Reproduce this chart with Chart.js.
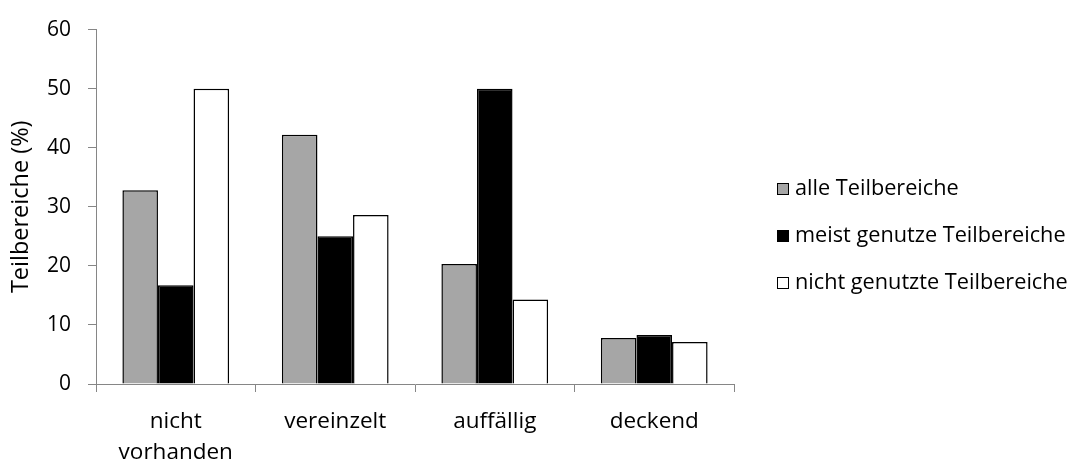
<!DOCTYPE html>
<html lang="de">
<head>
<meta charset="utf-8">
<title>Teilbereiche</title>
<script src="https://cdn.jsdelivr.net/npm/chart.js@4/dist/chart.umd.min.js"></script>
<style>
  html, body { margin: 0; padding: 0; background: #ffffff; }
  #wrap { width: 1075px; height: 463px; }
</style>
</head>
<body>
<div id="wrap"><canvas id="chart" width="1075" height="463"></canvas></div>
<script>
// Kategorien (Ausprägung) und Anteile der Teilbereiche in Prozent
const categories = [["nicht", "vorhanden"], "vereinzelt", "auffällig", "deckend"];
const seriesNames = ["alle Teilbereiche", "meist genutze Teilbereiche", "nicht genutzte Teilbereiche"];
const alleTeilbereiche = [32.8, 42.2, 20.3, 7.8];
const meistGenutzte = [16.7, 25.0, 50.0, 8.3];
const nichtGenutzte = [50.0, 28.6, 14.3, 7.1];
const yTicks = [0, 10, 20, 30, 40, 50, 60];
const yTitle = "Teilbereiche (%)";

const FONT = "'Open Sans'";
const AXIS_GREY = "#868686";

// Legende rechts neben dem Diagramm
const sideLegend = {
  id: "sideLegend",
  afterDraw(chart) {
    const ctx = chart.ctx;
    const boxX = 777, box = 12, textX = 795, firstY = 189, step = 47;
    ctx.save();
    ctx.font = "21.7px " + FONT;
    ctx.textBaseline = "middle";
    ctx.textAlign = "left";
    chart.data.datasets.forEach((ds, i) => {
      const y = firstY + i * step;
      ctx.fillStyle = ds.backgroundColor;
      ctx.fillRect(boxX, y - box / 2, box, box);
      ctx.lineWidth = 1;
      ctx.strokeStyle = "#000000";
      ctx.strokeRect(boxX + 0.5, y - box / 2 + 0.5, box - 1, box - 1);
      ctx.fillStyle = "#000000";
      ctx.fillText(ds.label, textX, y);
    });
    ctx.restore();
  }
};

const colors = ["#A6A6A6", "#000000", "#FFFFFF"];
const values = [alleTeilbereiche, meistGenutzte, nichtGenutzte];

new Chart(document.getElementById("chart"), {
  type: "bar",
  data: {
    labels: categories,
    datasets: seriesNames.map((name, i) => ({
      label: name,
      data: values[i],
      backgroundColor: colors[i],
      borderColor: "#000000",
      borderWidth: 1.5,
      categoryPercentage: 0.669,
      barPercentage: 1.0
    }))
  },
  options: {
    responsive: false,
    animation: false,
    devicePixelRatio: 1,
    layout: { padding: { top: 20, right: 341, bottom: 0, left: 0 } },
    plugins: {
      legend: { display: false },
      tooltip: { enabled: false },
      title: { display: false }
    },
    scales: {
      x: {
        offset: true,
        grid: {
          display: true,
          offset: true,
          drawOnChartArea: false,
          drawTicks: true,
          tickLength: 8,
          tickColor: AXIS_GREY,
          lineWidth: 1
        },
        border: { display: true, color: AXIS_GREY, width: 1 },
        ticks: {
          color: "#000000",
          padding: 14,
          maxRotation: 0,
          autoSkip: false,
          font: { family: FONT, size: 22.5, lineHeight: 1.38 }
        },
        afterFit(scale) { scale.height = 79; }
      },
      y: {
        min: 0,
        max: 60,
        afterBuildTicks(scale) { scale.ticks = yTicks.map(v => ({ value: v })); },
        grid: {
          display: true,
          drawOnChartArea: false,
          drawTicks: true,
          tickLength: 8,
          tickColor: AXIS_GREY,
          lineWidth: 1
        },
        border: { display: true, color: AXIS_GREY, width: 1 },
        ticks: {
          color: "#000000",
          padding: 17,
          font: { family: FONT, size: 21 }
        },
        title: {
          display: true,
          text: yTitle,
          color: "#000000",
          padding: { top: 7, bottom: 0 },
          font: { family: FONT, size: 23.5 }
        },
        afterFit(scale) { scale.width = 96; }
      }
    }
  },
  plugins: [sideLegend]
});
</script>
</body>
</html>
